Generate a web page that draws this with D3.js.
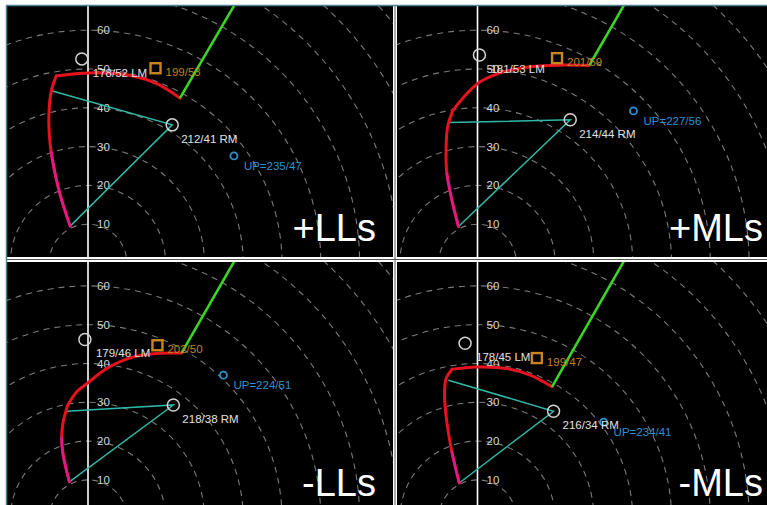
<!DOCTYPE html>
<html><head><meta charset="utf-8">
<script src="https://cdn.jsdelivr.net/npm/d3@7"></script>
<style>
html,body{margin:0;padding:0;background:#fff;}
svg{display:block;font-family:"Liberation Sans",Arial,sans-serif;}
</style></head><body>
<div id="chart"></div>
<script>
/* Four hodograph panels (storm-motion sensitivity): dashed speed rings,
   red/magenta hodograph, green upper segment, RM / LM / mean-wind / UP markers. */
var panelNames=["+LLs","+MLs","-LLs","-MLs"];
var ringKnots=[10,20,30,40,50,60,70,80,90,100,110,120];
var tickKnots=[10,20,30,40,50,60];

// hodograph traces as [u,v] in knots
var hodoPlusLL=[[-4.6,9.5],[-7.5,18.8],[-9.5,28.6],[-10.1,36.9],[-9.5,44.1],[-8.2,48.2],[0.5,49.0],[11.6,48.2],[18.0,46.1],[23.7,42.5]];
var hodoPlusML=[[-4.9,9.4],[-6.6,16.2],[-7.9,23.1],[-8.1,29.1],[-7.7,35.1],[-6.3,39.4],[-2.7,43.7],[0.7,46.7],[5.9,49.0],[13.6,50.6],[22.2,51.0],[28.8,50.9]];
var hodoMinusLL=[[-4.8,9.5],[-6.4,16.4],[-6.8,20.7],[-6.4,24.9],[-5.2,29.3],[-2.9,32.7],[0.1,35.1],[4.8,38.7],[11.7,41.7],[17.7,42.6],[24.1,42.7]];
var hodoMinusML=[[-4.7,9.2],[-6.6,17.2],[-7.9,24.9],[-8.5,31.8],[-8.1,36.1],[-6.6,38.5],[-0.2,39.1],[7.6,38.7],[13.6,37.0],[19.2,34.0]];
var hodographs=[hodoPlusLL,hodoPlusML,hodoMinusLL,hodoMinusML];
var cornerIndex=[5,5,4,5];
var magentaPoints=[3,3,3,2];
var upperEnds=[[39.8,70],[39.8,70],[39.8,70],[39.8,70]];
var shearAnchors=[[-9.4,44.4],[-7.5,36.2],[-5.5,27.7],[-7.5,35.7]];

var rmMotion=[[21.7,35.6],[23.9,36.9],[22.0,29.3],[19.6,27.7]];
var rmLabels=["212/41 RM","214/44 RM","218/38 RM","216/34 RM"];
var lmMotion=[[-1.6,52.6],[0.5,53.6],[-0.8,46.2],[-3.2,45.2]];
var lmLabels=["178/52 LM","181/53 LM","179/46 LM","178/45 LM"];
var meanMotion=[[17.4,50.2],[20.5,52.8],[17.9,44.7],[15.3,41.4]];
var meanLabels=["199/53","201/59","202/50","199/47"];
var upMotion=[[37.6,27.6],[40.2,39.2],[34.9,37.0],[32.5,24.9]];
var upLabels=["UP=235/47","UP=227/56","UP=224/51","UP=234/41"];

var W=767,H=505;
var svg=d3.select("#chart").append("svg").attr("width",W).attr("height",H);
svg.append("rect").attr("width",W).attr("height",H).attr("fill","#fff");

var boxes=[{x:7,y:6,w:386,h:251},{x:397,y:6,w:370,h:251},{x:7,y:262,w:386,h:243},{x:397,y:262,w:370,h:243}];
var pxPer10=38.8;

boxes.forEach(function(b,i){
    var cid="clip"+i;
    svg.append("clipPath").attr("id",cid).append("rect").attr("x",b.x).attr("y",b.y).attr("width",b.w).attr("height",b.h);
    var inner=svg.append("g").attr("clip-path","url(#"+cid+")")
        .append("g").attr("transform","translate("+b.x+","+b.y+")");

    var ox=(i%2===0)?81:80.5, oy=(i<2)?257:256.7;
    var x=d3.scaleLinear().domain([0,10]).range([ox,ox+pxPer10]);
    var y=d3.scaleLinear().domain([0,10]).range([oy,oy-pxPer10]);
    var r=d3.scaleLinear().domain([0,10]).range([0,pxPer10]);

    inner.append("rect").attr("width",b.w).attr("height",b.h).attr("fill","#000");

    inner.append("g").selectAll("circle").data(ringKnots).enter().append("circle")
        .attr("cx",x(0)).attr("cy",y(0)).attr("r",function(d){return r(d);})
        .attr("fill","none").attr("stroke","#7a7a7a").attr("stroke-width",1.1).attr("stroke-dasharray","6,5");

    inner.append("line").attr("x1",x(0)).attr("x2",x(0)).attr("y1",0).attr("y2",b.h)
        .attr("stroke","#fff").attr("stroke-width",1.6);

    inner.append("g").selectAll("text").data(tickKnots).enter().append("text")
        .attr("x",x(0)+9).attr("y",function(d){return y(d)+4;})
        .style("font-size","11.5px").attr("fill","#d8d8d8").text(function(d){return d;});

    var hodo=hodographs[i], c=cornerIndex[i];
    var line=d3.line().x(function(d){return x(d[0]);}).y(function(d){return y(d[1]);});
    var smooth=d3.line().x(function(d){return x(d[0]);}).y(function(d){return y(d[1]);}).curve(d3.curveCatmullRom.alpha(0.5));

    // cyan shear lines
    inner.append("path").attr("d",line([shearAnchors[i],rmMotion[i],hodo[0]]))
        .attr("fill","none").attr("stroke","#2fb8a8").attr("stroke-width",1.5);

    // red trace: lower leg and upper arc meet at a corner
    [hodo.slice(0,c+1),hodo.slice(c)].forEach(function(seg){
        inner.append("path").attr("d",smooth(seg)).attr("fill","none")
            .attr("stroke","#e8121e").attr("stroke-width",3).attr("stroke-linejoin","round").attr("stroke-linecap","round");
    });
    inner.append("path").attr("d",smooth(hodo.slice(0,magentaPoints[i]))).attr("fill","none")
        .attr("stroke","#e0198c").attr("stroke-width",2.6).attr("stroke-linecap","round");
    inner.append("path").attr("d",line([hodo[hodo.length-1],upperEnds[i]])).attr("fill","none")
        .attr("stroke","#3ad424").attr("stroke-width",2.6);

    // markers
    [rmMotion[i],lmMotion[i]].forEach(function(m){
        inner.append("circle").attr("cx",x(m[0])).attr("cy",y(m[1])).attr("r",6)
            .attr("fill","none").attr("stroke","#d4d4d4").attr("stroke-width",1.5);
    });
    inner.append("rect").attr("x",x(meanMotion[i][0])-5).attr("y",y(meanMotion[i][1])-5)
        .attr("width",10).attr("height",10).attr("fill","none").attr("stroke","#c8861c").attr("stroke-width",2.4);
    inner.append("circle").attr("cx",x(upMotion[i][0])).attr("cy",y(upMotion[i][1])).attr("r",3.5)
        .attr("fill","none").attr("stroke","#2a92d2").attr("stroke-width",1.8);

    function label(m,dx,dy,txt,col){
        inner.append("text").attr("x",x(m[0])+dx).attr("y",y(m[1])+dy+4)
            .style("font-size","11.5px").attr("fill",col).text(txt);
    }
    label(rmMotion[i],9,14,rmLabels[i],"#e2e2e2");
    label(lmMotion[i],11,14,lmLabels[i],"#e2e2e2");
    label(meanMotion[i],10,4,meanLabels[i],"#c08220");
    label(upMotion[i],10,10,upLabels[i],"#2a92d2");

    inner.append("text").attr("x",(i%2===0)?369:366).attr("y",(i<2)?235:234)
        .attr("text-anchor","end").style("font-size","38px").attr("fill","#fff").text(panelNames[i]);
});

// separators and frame
svg.append("line").attr("x1",395).attr("x2",395).attr("y1",6).attr("y2",H).attr("stroke","#555").attr("stroke-width",1);
svg.append("line").attr("x1",7).attr("x2",W).attr("y1",259.5).attr("y2",259.5).attr("stroke","#555").attr("stroke-width",1);
svg.append("line").attr("x1",6).attr("x2",W).attr("y1",5.5).attr("y2",5.5).attr("stroke","#4f8299").attr("stroke-width",1.5);
svg.append("line").attr("x1",6.5).attr("x2",6.5).attr("y1",5).attr("y2",H).attr("stroke","#4f8299").attr("stroke-width",1.5);
</script></body></html>
